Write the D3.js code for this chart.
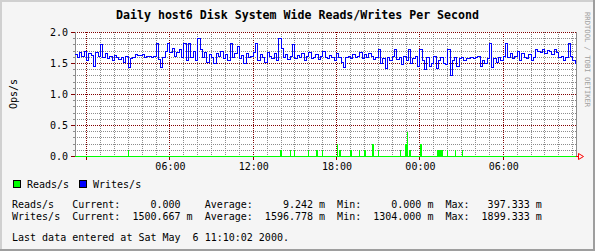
<!DOCTYPE html>
<html>
<head>
<meta charset="utf-8">
<script src="https://cdn.jsdelivr.net/npm/d3@7"></script>
<style>
  body { margin: 0; background: #f5f5f5; }
  text { font-family: "DejaVu Sans Mono", monospace; }
</style>
</head>
<body>
<div id="chart"></div>
<script>
var width = 595;
var height = 251;

// data ++++++++++++++++++++++++++++++++++++++++++++
var startTime = "2000-05-04 23:10";
var endTime = "2000-05-06 11:10";
var stepMinutes = 10;

// Writes/s, one value every 10 minutes from startTime
var writes = [
  1.65, 1.60, 1.68, 1.62, 1.70, 1.55, 1.66, 1.63, 1.45, 1.68,
  1.62, 1.81, 1.60, 1.66, 1.58, 1.62, 1.55, 1.63, 1.60, 1.57,
  1.60, 1.52, 1.62, 1.44, 1.58, 1.60, 1.65, 1.63, 1.63, 1.64,
  1.60, 1.61, 1.61, 1.60, 1.62, 1.82, 1.57, 1.44, 1.60, 1.70,
  1.83, 1.68, 1.75, 1.62, 1.67, 1.72, 1.60, 1.82, 1.55, 1.82,
  1.60, 1.70, 1.55, 1.90, 1.72, 1.60, 1.68, 1.52, 1.65, 1.60,
  1.50, 1.66, 1.62, 1.70, 1.58, 1.65, 1.55, 1.82, 1.60, 1.66,
  1.78, 1.58, 1.63, 1.50, 1.66, 1.60, 1.62, 1.68, 1.82, 1.55,
  1.65, 1.60, 1.52, 1.68, 1.62, 1.58, 1.66, 1.55, 1.90, 1.75,
  1.60, 1.65, 1.56, 1.62, 1.81, 1.58, 1.63, 1.60, 1.66, 1.55,
  1.62, 1.67, 1.58, 1.60, 1.65, 1.56, 1.62, 1.70, 1.60, 1.58,
  1.63, 1.60, 1.55, 1.66, 1.60, 1.52, 1.43, 1.60, 1.62, 1.58,
  1.65, 1.60, 1.62, 1.68, 1.58, 1.64, 1.60, 1.66, 1.62, 1.56,
  1.60, 1.72, 1.50, 1.58, 1.42, 1.60, 1.55, 1.62, 1.72, 1.56,
  1.60, 1.48, 1.62, 1.55, 1.72, 1.50, 1.58, 1.62, 1.45, 1.72,
  1.55, 1.40, 1.60, 1.45, 1.50, 1.62, 1.42, 1.55, 1.60, 1.50,
  1.48, 1.72, 1.31, 1.55, 1.60, 1.45, 1.58, 1.60, 1.55, 1.58,
  1.58, 1.60, 1.58, 1.60, 1.62, 1.45, 1.55, 1.50, 1.58, 1.82,
  1.43, 1.58, 1.52, 1.60, 1.55, 1.62, 1.82, 1.60, 1.66, 1.58,
  1.62, 1.70, 1.55, 1.66, 1.60, 1.58, 1.64, 1.55, 1.60, 1.72,
  1.70, 1.68, 1.72, 1.66, 1.71, 1.70, 1.64, 1.72, 1.68, 1.60,
  1.62, 1.55, 1.60, 1.83, 1.62, 1.55, 1.50
];

// Reads/s, only the non-zero 5 minute samples
var readTimes = [
  "2000-05-05 03:00", "2000-05-05 13:55", "2000-05-05 14:00", "2000-05-05 14:40",
  "2000-05-05 14:55", "2000-05-05 15:55", "2000-05-05 16:30", "2000-05-05 16:35",
  "2000-05-05 16:55", "2000-05-05 18:00", "2000-05-05 18:10", "2000-05-05 18:15",
  "2000-05-05 19:00", "2000-05-05 19:35", "2000-05-05 20:00", "2000-05-05 20:35",
  "2000-05-05 21:00", "2000-05-05 22:35", "2000-05-05 22:55", "2000-05-05 23:00",
  "2000-05-05 23:05", "2000-05-05 23:15", "2000-05-06 00:00", "2000-05-06 00:05",
  "2000-05-06 01:15", "2000-05-06 01:20", "2000-05-06 01:25", "2000-05-06 01:30",
  "2000-05-06 01:35", "2000-05-06 01:55", "2000-05-06 02:30", "2000-05-06 03:00"
];
var readValues = [
  0.1, 0.1, 0.1, 0.1,
  0.1, 0.1, 0.1, 0.1,
  0.1, 0.2, 0.1, 0.1,
  0.1, 0.1, 0.1, 0.2,
  0.1, 0.1, 0.2, 0.2,
  0.397, 0.1, 0.2, 0.2,
  0.1, 0.1, 0.1, 0.1,
  0.1, 0.1, 0.1, 0.1
];

var yTicks = [0.0, 0.5, 1.0, 1.5, 2.0];
var xLabels = ["2000-05-05 06:00", "2000-05-05 12:00", "2000-05-05 18:00",
               "2000-05-06 00:00", "2000-05-06 06:00"];

var titleText = "Daily host6 Disk System Wide Reads/Writes Per Second";
var legendNames = ["Reads/s", "Writes/s"];
var legendColors = ["#00ff00", "#0000ff"];
var statLines = [
  "Reads/s   Current:     0.000    Average:     9.242 m  Min:     0.000 m  Max:   397.333 m",
  "Writes/s  Current:  1500.667 m  Average:  1596.778 m  Min:  1304.000 m  Max:  1899.333 m"
];
var lastLine = "Last data entered at Sat May  6 11:10:02 2000.";
//++++++++++++++++++++++++++++++++++++++++++++++++++

var parse = d3.timeParse("%Y-%m-%d %H:%M");
var t0 = parse(startTime);
var t1 = parse(endTime);

var xScale = d3.scaleTime().domain([t0, t1]).range([75, 575]);
var yScale = d3.scaleLinear().domain([0, 2]).range([156.5, 32.5]);

var crisp = function (v) { return Math.round(v - 0.5) + 0.5; };

var svg = d3.select("#chart")
  .append("svg")
  .attr("width", width)
  .attr("height", height);

// background + 3d frame
svg.append("rect").attr("width", width).attr("height", height).attr("fill", "#f5f5f5");
svg.append("rect").attr("x", 0).attr("y", 0).attr("width", width).attr("height", 2).attr("fill", "#d0d0d0");
svg.append("rect").attr("x", 0).attr("y", 0).attr("width", 2).attr("height", height).attr("fill", "#d0d0d0");
svg.append("rect").attr("x", width - 2).attr("y", 0).attr("width", 2).attr("height", height).attr("fill", "#9e9e9e");
svg.append("rect").attr("x", 0).attr("y", height - 2).attr("width", width).attr("height", 2).attr("fill", "#9e9e9e");

// plot canvas
svg.append("rect")
  .attr("x", 75).attr("y", 32)
  .attr("width", 501).attr("height", 125)
  .attr("fill", "#ffffff");

var grid = svg.append("g").attr("shape-rendering", "crispEdges");

// minor vertical grid every hour, major every 6 hours
var hours = d3.timeHour.every(1).range(t0, t1);
hours.forEach(function (h) {
  var major = h.getHours() % 6 === 0;
  var x = crisp(xScale(h));
  grid.append("line")
    .attr("x1", x).attr("x2", x)
    .attr("y1", 32).attr("y2", 156)
    .attr("stroke", major ? "#820000" : "#8c8c8c")
    .attr("stroke-dasharray", "1,1");
  if (major) {
    grid.append("line")
      .attr("x1", x).attr("x2", x)
      .attr("y1", 156).attr("y2", 160)
      .attr("stroke", "#820000");
  }
});

// horizontal grid every 0.1, major every 0.5
d3.range(0, 21).forEach(function (i) {
  var v = i / 10;
  var major = i % 5 === 0;
  var y = crisp(yScale(v));
  if (i > 0) {
    grid.append("line")
      .attr("x1", 75).attr("x2", 576)
      .attr("y1", y).attr("y2", y)
      .attr("stroke", major ? "#820000" : "#8c8c8c")
      .attr("stroke-dasharray", "1,1");
  }
  grid.append("line")
    .attr("x1", major ? 71 : 73).attr("x2", 75)
    .attr("y1", y).attr("y2", y)
    .attr("stroke", major ? "#820000" : "#8c8c8c");
});

// frame lines of the canvas
grid.append("line").attr("x1", 75.5).attr("x2", 75.5).attr("y1", 32).attr("y2", 157).attr("stroke", "#8c8c8c");
grid.append("line").attr("x1", 576.5).attr("x2", 576.5).attr("y1", 32).attr("y2", 157).attr("stroke", "#8c8c8c");

// axis labels
var yAxis = d3.axisLeft(yScale)
  .tickValues(yTicks)
  .tickFormat(d3.format(".1f"))
  .tickSize(0)
  .tickPadding(7);
var yg = svg.append("g").attr("transform", "translate(75,0)").call(yAxis);
yg.select(".domain").remove();
yg.selectAll("text").attr("font-size", "10px").attr("fill", "#000")
  .attr("font-family", "DejaVu Sans Mono");

var xAxis = d3.axisBottom(xScale)
  .tickValues(xLabels.map(parse))
  .tickFormat(d3.timeFormat("%H:%M"))
  .tickSize(0)
  .tickPadding(6);
var xg = svg.append("g").attr("transform", "translate(0,157)").call(xAxis);
xg.select(".domain").remove();
xg.selectAll("text").attr("font-size", "10px").attr("fill", "#000")
  .attr("font-family", "DejaVu Sans Mono");

// reads (green area, zero shows as a 1px line)
var marks = svg.append("g").attr("shape-rendering", "crispEdges");
marks.append("rect")
  .attr("x", 75).attr("y", 156)
  .attr("width", 501).attr("height", 1)
  .attr("fill", "#00ff00");

var stepMs = 5 * 60 * 1000;
marks.selectAll(".read")
  .data(readTimes.map(function (t, i) { return { t: parse(t), v: readValues[i] }; }))
  .enter()
  .append("rect")
  .attr("class", "read")
  .attr("x", function (d) { return Math.round(xScale(d.t)); })
  .attr("width", function (d) {
    return Math.max(1, Math.round(xScale(new Date(+d.t + stepMs))) - Math.round(xScale(d.t)));
  })
  .attr("y", function (d) { return Math.round(yScale(d.v)); })
  .attr("height", function (d) { return 157 - Math.round(yScale(d.v)); })
  .attr("fill", "#00ff00");

// x axis line and arrow
svg.append("line")
  .attr("x1", 71).attr("x2", 581)
  .attr("y1", 156.5).attr("y2", 156.5)
  .attr("stroke", "#ff0000")
  .attr("shape-rendering", "crispEdges")
  .attr("stroke-opacity", 0.0);
svg.append("path")
  .attr("d", "M576,156.5 H578.5 M578.5,153.5 L583.5,156.5 L578.5,159.5 Z")
  .attr("fill", "none")
  .attr("stroke", "#ff0000")
  .attr("stroke-width", 1);

// writes line
var writePoints = writes.map(function (v, i) {
  return { t: new Date(+t0 + i * stepMinutes * 60 * 1000), v: v };
});
var line = d3.line()
  .x(function (d) { return xScale(d.t); })
  .y(function (d) { return crisp(yScale(d.v)); })
  .curve(d3.curveStepAfter);
svg.append("path")
  .datum(writePoints)
  .attr("d", line)
  .attr("fill", "none")
  .attr("stroke", "#0000ff")
  .attr("stroke-width", 1)
  .attr("shape-rendering", "crispEdges");

// title
svg.append("text")
  .attr("x", 297.5)
  .attr("y", 19)
  .attr("text-anchor", "middle")
  .attr("font-size", "11.6px")
  .attr("font-weight", "bold")
  .text(titleText);

// y label
svg.append("text")
  .attr("transform", "translate(17,94) rotate(-90)")
  .attr("text-anchor", "middle")
  .attr("font-size", "10px")
  .text("Ops/s");

// watermark
svg.append("text")
  .attr("transform", "translate(585,12) rotate(90)")
  .attr("font-size", "7.2px")
  .attr("fill", "#a0a0a0")
  .text("RRDTOOL / TOBI OETIKER");

// legend
var legendX = [13, 79];
legendNames.forEach(function (name, i) {
  svg.append("rect")
    .attr("x", legendX[i] + 0.5).attr("y", 180.5)
    .attr("width", 7).attr("height", 7)
    .attr("fill", legendColors[i])
    .attr("stroke", "#000");
  svg.append("text")
    .attr("x", legendX[i] + 14)
    .attr("y", 188)
    .attr("font-size", "10px")
    .text(name);
});

// statistics
statLines.forEach(function (s, i) {
  svg.append("text")
    .attr("x", 12)
    .attr("y", 208 + i * 11.5)
    .attr("font-size", "10px")
    .attr("xml:space", "preserve")
    .style("white-space", "pre")
    .text(s);
});

svg.append("text")
  .attr("x", 12)
  .attr("y", 241)
  .attr("font-size", "10px")
  .style("white-space", "pre")
  .text(lastLine);
</script>
</body>
</html>
